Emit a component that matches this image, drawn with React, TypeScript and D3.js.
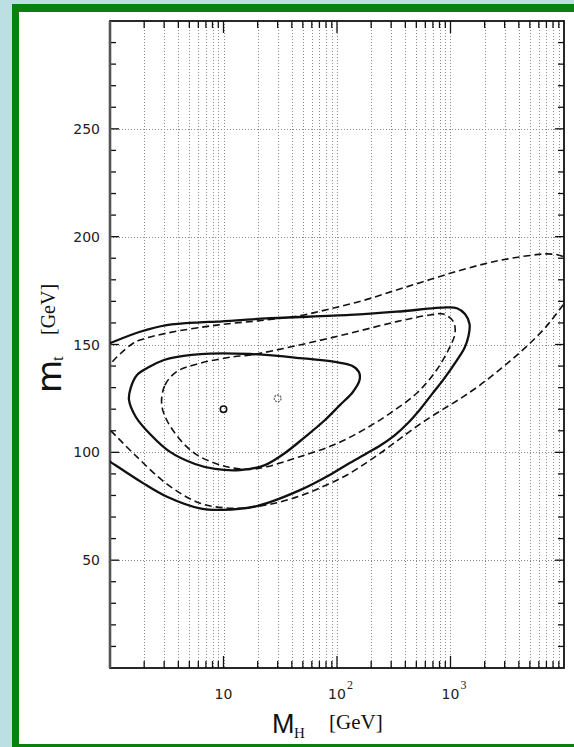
import React, { useEffect, useRef } from 'react';
import * as d3 from 'd3';

const W = 574;
const H = 747;

// plot frame in page pixels
const plot = { left: 110, right: 564, top: 21, bottom: 668 };

// best fit points [M_H, m_t]
const fitSolid: [number, number] = [10, 120];
const fitDashed: [number, number] = [30, 125];

// large solid contour, open on the left edge (top branch -> round the right -> bottom branch)
const outerSolid: [number, number][] = [
  [0.816, 148.7], [1.0, 150.6], [1.84, 155.9], [3.16, 159.0], [6.21, 160.3], [8.71, 160.6],
  [24.0, 162.1], [130, 163.7], [336, 165.2], [926, 167.2], [1141, 166.8], [1342, 164.1],
  [1471, 159.5], [1441, 153.9], [1328, 148.4], [1141, 142.8], [859, 133.5], [687, 127.0],
  [539, 119.9], [422, 113.6], [324, 108.0], [244, 103.4], [176, 99.0], [125, 94.6],
  [89.4, 90.0], [47.2, 82.5], [19.7, 75.1], [9.9, 73.3],
  [6.21, 74.0], [3.18, 79.4], [1.97, 85.6], [1.0, 95.7], [0.816, 98.8],
];

// small solid contour, closed
const innerSolid: [number, number][] = [
  [2.25, 139.8], [2.99, 142.8], [3.81, 144.2], [7.61, 145.8], [17.1, 145.6], [47.2, 143.7],
  [96.0, 141.9], [135.6, 140.1], [156, 137.2], [158, 133.5], [138, 128.0], [106, 121.9],
  [78.4, 115.0], [52.2, 107.1], [34.8, 99.7], [23.2, 94.1], [14.0, 91.8], [8.42, 92.3],
  [5.61, 94.6], [3.38, 100.2], [2.25, 108.5], [1.69, 116.4], [1.47, 124.3], [1.52, 129.8],
  [1.73, 135.9],
];

// large dashed contour, runs off the left and right edges
const outerDashed: [number, number][] = [
  [0.85, 133.0], [1.0, 140.5], [1.225, 145.6], [1.60, 150.6], [1.84, 152.1], [3.18, 155.3],
  [8.76, 159.0], [24.0, 161.4], [47.2, 163.4], [86.8, 166.5], [170, 170.4], [336, 175.3],
  [660, 180.1], [1297, 184.8], [2553, 188.7], [5017, 191.3], [7040, 192.0], [9222, 191.3],
  [11765, 188.2], [13287, 180.8], [11527, 173.4],
  [9544, 167.5], [7040, 158.6], [5017, 150.6], [3553, 143.5], [2553, 137.2], [1819, 131.2],
  [1297, 125.8], [926, 121.0], [660, 116.2], [467, 110.8], [336, 105.2], [239, 99.5],
  [170, 94.2], [122.5, 89.5], [86.8, 85.6], [47.2, 79.8], [24.2, 75.6], [12.1, 74.1],
  [6.21, 76.4], [3.18, 85.3], [1.60, 99.6], [1.0, 110.4], [0.816, 115.0],
];

// small dashed contour, closed
const innerDashed: [number, number][] = [
  [2.85, 122.6], [3.05, 131.2], [3.87, 137.4], [6.2, 141.3], [12.2, 144.3], [17.1, 145.1],
  [47, 149.8], [130, 155.2], [336, 160.6], [660, 163.7], [865, 164.1], [1060, 160.6],
  [1096, 155.2], [990, 149.0], [755, 138.2], [504, 127.4], [293, 118.1], [171, 110.4],
  [93, 103.4], [47, 98.0], [24, 93.3], [17.1, 92.1], [10.7, 93.3], [6.2, 98.0],
  [4.42, 104.2], [3.16, 115.0],
];

const yLabels = [50, 100, 150, 200, 250];
const xLabels = [
  { v: 10, base: '10', exp: '' },
  { v: 100, base: '10', exp: '2' },
  { v: 1000, base: '10', exp: '3' },
];

const App = () => {
  const svgRef = useRef<SVGSVGElement>(null);

  useEffect(() => {
    const svg = d3.select(svgRef.current);
    svg.selectAll('*').remove();

    const x = d3.scaleLog().domain([1, 1e4]).range([plot.left, plot.right]);
    const y = d3.scaleLinear().domain([0, 300]).range([plot.bottom, plot.top]);

    // background, green frame, white sheet
    svg.append('rect').attr('width', W).attr('height', H).attr('fill', '#bcdfe3');
    svg.append('rect').attr('x', 12).attr('y', 4).attr('width', W - 12).attr('height', H - 4).attr('fill', '#0a8010');
    svg.append('rect').attr('x', 19).attr('y', 12).attr('width', W - 19).attr('height', 732).attr('fill', '#fff');

    svg.append('clipPath').attr('id', 'plotclip')
      .append('rect')
      .attr('x', plot.left).attr('y', plot.top)
      .attr('width', plot.right - plot.left).attr('height', plot.bottom - plot.top);

    // dotted grid
    const grid = svg.append('g')
      .attr('stroke', '#8a8a8a')
      .attr('stroke-width', 1)
      .attr('stroke-dasharray', '1 2');

    const xTicks = x.ticks().filter(v => v > 1 && v < 1e4);
    grid.selectAll('line.v').data(xTicks).join('line')
      .attr('class', 'v')
      .attr('x1', d => Math.round(x(d)) + 0.5).attr('x2', d => Math.round(x(d)) + 0.5)
      .attr('y1', plot.top).attr('y2', plot.bottom);

    grid.selectAll('line.h').data(yLabels).join('line')
      .attr('class', 'h')
      .attr('y1', d => Math.round(y(d)) + 0.5).attr('y2', d => Math.round(y(d)) + 0.5)
      .attr('x1', plot.left).attr('x2', plot.right);

    // ticks on all four sides, pointing in
    const ticks = svg.append('g').attr('stroke', '#111').attr('stroke-width', 1.3);
    const isDecade = (v: number) => Math.abs(Math.log10(v) - Math.round(Math.log10(v))) < 1e-6;
    xTicks.forEach(v => {
      const len = isDecade(v) ? 12 : 7;
      const px = x(v);
      ticks.append('line').attr('x1', px).attr('x2', px).attr('y1', plot.bottom).attr('y2', plot.bottom - len);
      ticks.append('line').attr('x1', px).attr('x2', px).attr('y1', plot.top).attr('y2', plot.top + len);
    });
    d3.range(10, 300, 10).forEach(v => {
      const len = v % 50 === 0 ? 9 : 6;
      const py = y(v);
      ticks.append('line').attr('x1', plot.left).attr('x2', plot.left + len).attr('y1', py).attr('y2', py);
      ticks.append('line').attr('x1', plot.right).attr('x2', plot.right - len).attr('y1', py).attr('y2', py);
    });

    // frame
    svg.append('rect')
      .attr('x', plot.left).attr('y', plot.top)
      .attr('width', plot.right - plot.left).attr('height', plot.bottom - plot.top)
      .attr('fill', 'none').attr('stroke', '#111').attr('stroke-width', 1.8);
    svg.append('line')
      .attr('x1', plot.left).attr('x2', plot.left).attr('y1', plot.top).attr('y2', plot.bottom)
      .attr('stroke', '#555').attr('stroke-width', 2.6);

    // contours
    const open = d3.line<[number, number]>().x(d => x(d[0])).y(d => y(d[1])).curve(d3.curveCatmullRom.alpha(0.5));
    const closed = d3.line<[number, number]>().x(d => x(d[0])).y(d => y(d[1])).curve(d3.curveCatmullRomClosed.alpha(0.5));

    const curves = svg.append('g').attr('clip-path', 'url(#plotclip)').attr('fill', 'none').attr('stroke', '#111');
    curves.append('path').attr('d', open(outerSolid)).attr('stroke-width', 2.3);
    curves.append('path').attr('d', closed(innerSolid)).attr('stroke-width', 2.3);
    curves.append('path').attr('d', open(outerDashed)).attr('stroke-width', 1.6).attr('stroke-dasharray', '7 4');
    curves.append('path').attr('d', closed(innerDashed)).attr('stroke-width', 1.6).attr('stroke-dasharray', '7 4');

    curves.append('circle').attr('cx', x(fitSolid[0])).attr('cy', y(fitSolid[1])).attr('r', 3.2)
      .attr('stroke-width', 1.6);
    curves.append('circle').attr('cx', x(fitDashed[0])).attr('cy', y(fitDashed[1])).attr('r', 3.4)
      .attr('stroke', '#666').attr('stroke-width', 1.3).attr('stroke-dasharray', '2 1');

    // tick labels
    svg.append('g').selectAll('text').data(yLabels).join('text')
      .attr('x', 100).attr('y', d => y(d) + 5)
      .attr('text-anchor', 'end')
      .attr('font-family', 'DejaVu Sans')
      .attr('font-size', 14)
      .attr('fill', '#222')
      .text(d => d);

    const xl = svg.append('g').attr('fill', '#222');
    xLabels.forEach(t => {
      xl.append('text')
        .attr('x', x(t.v)).attr('y', 699)
        .attr('text-anchor', 'middle')
        .attr('font-family', 'DejaVu Sans')
        .attr('font-size', 14)
        .text(t.base);
      if (t.exp) {
        xl.append('text')
          .attr('x', x(t.v) + 10).attr('y', 689)
          .attr('font-family', 'Liberation Serif')
          .attr('font-size', 12)
          .text(t.exp);
      }
    });

    // axis titles
    const yt = svg.append('g').attr('transform', 'translate(61,393) rotate(-90)').attr('fill', '#111');
    yt.append('text').attr('x', 0).attr('y', 0).attr('font-family', 'DejaVu Sans').attr('font-size', 34).text('m');
    yt.append('text').attr('x', 32).attr('y', 2).attr('font-family', 'Liberation Serif').attr('font-size', 17).text('t');
    yt.append('text').attr('x', 58).attr('y', -6).attr('font-family', 'Liberation Serif').attr('font-size', 20).text('[GeV]');

    const xt = svg.append('g').attr('fill', '#111');
    xt.append('text').attr('x', 272).attr('y', 733).attr('font-family', 'Liberation Sans').attr('font-size', 27).text('M');
    xt.append('text').attr('x', 294).attr('y', 738).attr('font-family', 'Liberation Serif').attr('font-size', 15).text('H');
    xt.append('text').attr('x', 329).attr('y', 728.5).attr('font-family', 'Liberation Serif').attr('font-size', 21).text('[GeV]');
  }, []);

  return (
    <div style={{ position: 'absolute', left: 0, top: 0, width: W, height: H }}>
      <svg ref={svgRef} width={W} height={H} style={{ display: 'block' }} />
    </div>
  );
};

export default App;
